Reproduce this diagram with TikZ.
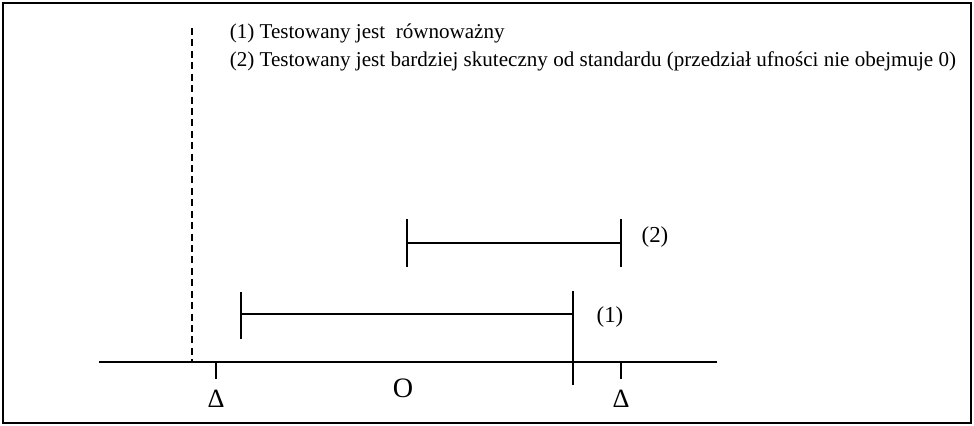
\documentclass[tikz,border=0pt]{standalone}
\usepackage{fontspec}
\setmainfont{Liberation Serif}
\begin{document}
\begin{tikzpicture}[x=0.02cm, y=-0.02cm, line width=0.9pt]
	\useasboundingbox (0,0) rectangle (974,426);
	\draw[line width=1.6pt] (3,3) rectangle (971,423);
	
	% axis and the dashed line
	\coordinate (axL) at (99,362);
	\coordinate (axR) at (717,362);
	\draw (axL) -- (axR);
	\coordinate (dashT) at (192,28);
	\coordinate (dashB) at (192,362);
	\draw[dash pattern=on 4pt off 2.5pt, line width=0.6pt] (dashT) -- (dashB);
	
	\foreach \x/\dname in {216/deltaL, 621/deltaR}{
		\draw (\x,362) -- (\x,379);
		\node[font=\fontsize{15}{15}\selectfont] (\dname) at (\x,399) {Δ};
	}
	\node[font=\fontsize{16}{16}\selectfont] (zero) at (403,388) {O};
	
	% intervals
	\coordinate (i1L) at (241,314);
	\coordinate (i1R) at (573,314);
	\draw (i1L) -- (i1R);
	\draw (i1L) ++(0,-22) -- ++(0,47);
	\draw (i1R) ++(0,-23) -- ++(0,94);
	\node[font=\fontsize{13}{13}\selectfont, anchor=west] (lab1) at (590,317) {(1)};
	
	\coordinate (i2L) at (407,243);
	\coordinate (i2R) at (621,243);
	\draw (i2L) -- (i2R);
	\foreach \p in {i2L, i2R}
	\draw (\p) ++(0,-24) -- ++(0,48);
	\node[font=\fontsize{13}{13}\selectfont, anchor=west] (lab2) at (635,237) {(2)};
	
	% legend
	\node[anchor=west, inner sep=0pt, font=\fontsize{12}{12}\selectfont] (leg1) at (229,33) {(1) Testowany jest\ \ równoważny};
	\node[anchor=west, inner sep=0pt, font=\fontsize{12}{12}\selectfont] (leg2) at (229,61) {(2) Testowany jest bardziej skuteczny od standardu (przedział ufności nie obejmuje 0)};
\end{tikzpicture}
\end{document}
